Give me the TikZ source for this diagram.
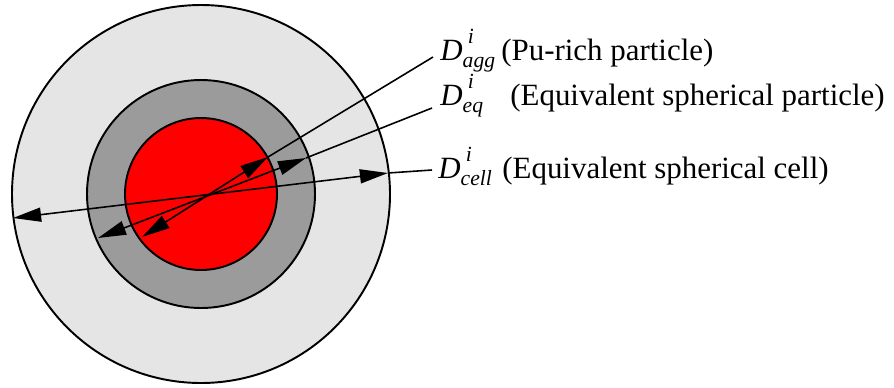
\documentclass[tikz,border=0pt]{standalone}
\usepackage{amsmath}
\usepackage{fontspec}
\setmainfont{Liberation Serif}
\usetikzlibrary{arrows.meta}
\definecolor{cellGray}{HTML}{E5E5E5}
\definecolor{shellGray}{HTML}{9B9B9B}
\definecolor{aggRed}{HTML}{FF0000}
\newcommand{\dimsup}{\raisebox{2.5pt}{\hspace{3pt}\fontsize{12.3}{14}\selectfont\textit{i}}}
\tikzset{
  zone/.style={
    draw=black,
    line width=1.1pt
  },
  dimline/.style={
    {Triangle[length=16pt,width=8pt]}-{Triangle[length=16pt,width=8pt]},
    line width=0.9pt,
    draw=black
  },
  leader/.style={
    line width=0.9pt,
    draw=black
  },
  dimsym/.style={
    anchor=base west,
    inner sep=0pt,
    font=\fontsize{17.6}{20}\selectfont
  },
  dimtext/.style={
    anchor=base west,
    inner sep=0pt,
    font=\fontsize{17.6}{20}\selectfont
  }
}

\begin{document}
\begin{tikzpicture}[x=0.02cm,y=-0.02cm]
  \useasboundingbox (0,0) rectangle (894,387);
  % concentric zones
  \coordinate (center) at (201,194);
  \fill[cellGray] (center) circle[radius=189];
  \draw[zone] (center) circle[radius=189];
  \filldraw[zone,fill=shellGray] (center) circle[radius=114];
  \filldraw[zone,fill=aggRed] (center) circle[radius=76];
  % arrow ends and leader ends
  \coordinate (aggA) at (142,237);
  \coordinate (aggB) at (268,157);
  \coordinate (aggEnd) at (433,57);
  \coordinate (eqA) at (98,238);
  \coordinate (eqB) at (306,158);
  \coordinate (eqEnd) at (432,108);
  \coordinate (cellA) at (13,218);
  \coordinate (cellB) at (388,173);
  \coordinate (cellEnd) at (432,170);
  % labels
  \node[dimsym] (aggSym) at (440,60) {$\textit{D}^{\dimsup}_{\textit{agg}}$};
  \node[dimtext] (aggText) at (501,60) {(Pu-rich particle)};
  \node[dimsym] (eqSym) at (440,105) {$\textit{D}^{\dimsup}_{\textit{eq}}$};
  \node[dimtext] (eqText) at (510,105) {(Equivalent spherical particle)};
  \node[dimsym] (cellSym) at (438,178) {$\textit{D}^{\dimsup}_{\textit{cell}}$};
  \node[dimtext] (cellText) at (502,178) {(Equivalent spherical cell)};
  % diameters
  \draw[dimline] (cellA) -- (cellB);
  \draw[leader] (cellB) -- (cellEnd);
  \draw[dimline] (eqA) -- (eqB);
  \draw[leader] (eqB) -- (eqEnd);
  \draw[dimline] (aggA) -- (aggB);
  \draw[leader] (aggB) -- (aggEnd);
\end{tikzpicture}
\end{document}
